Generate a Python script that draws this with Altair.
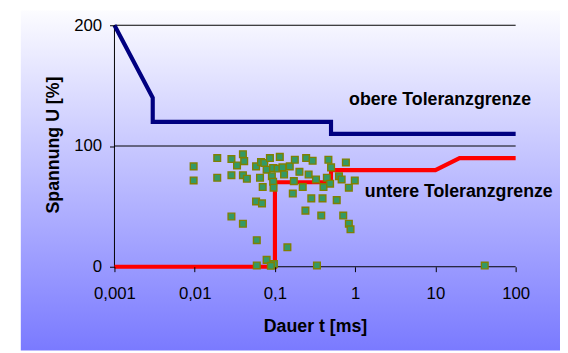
import altair as alt
import pandas as pd

# ---- data ----
x_ticks = [0.001, 0.01, 0.1, 1, 10, 100]
x_tick_labels = ["0,001", "0,01", "0,1", "1", "10", "100"]
y_ticks = [0, 100, 200]

upper_t = [0.001, 0.003, 0.003, 0.5, 0.5, 100]
upper_u = [200, 140, 120, 120, 110, 110]

lower_t = [0.001, 0.1, 0.1, 0.5, 0.5, 10, 20, 100]
lower_u = [0, 0, 70, 70, 80, 80, 90, 90]

events_t = [0.0097, 0.0097, 0.0191, 0.0191, 0.0287, 0.0337, 0.0399, 0.0414, 0.0287, 0.0399,
            0.0447, 0.0287, 0.0399, 0.0594, 0.0594, 0.0788, 0.097, 0.089, 0.143, 0.334,
            0.0582, 0.0671, 0.0737, 0.0866, 0.115, 0.0788, 0.095, 0.108, 0.124, 0.153,
            0.177, 0.245, 0.295, 0.464, 0.501, 0.0652, 0.0916, 0.130, 0.202, 0.263,
            0.095, 0.0961, 0.0704, 0.172, 0.222, 0.325, 0.403, 0.444, 0.487, 0.167,
            0.0582, 0.069, 0.284, 0.392, 0.240, 0.378, 0.766, 0.989, 0.834, 0.710,
            0.834, 0.875, 0.589, 0.628, 0.678, 41.2]
events_u = [83.1, 71.5, 90.0, 73.7, 89.2, 83.9, 93.2, 87.5, 75.8, 75.8,
            72.9, 41.6, 35.6, 22.0, 1.1, 5.7, 2.2, 0.8, 16.1, 1.1,
            83.1, 86.7, 85.9, 90.0, 91.0, 80.4, 81.8, 81.3, 82.3, 83.1,
            88.6, 90.0, 87.8, 88.6, 82.3, 73.7, 75.0, 76.4, 78.6, 76.4,
            70.4, 65.5, 66.0, 70.9, 66.0, 72.3, 66.0, 73.7, 68.8, 60.6,
            54.1, 52.5, 56.6, 56.6, 46.5, 42.4, 86.4, 71.5, 65.5, 42.4,
            35.6, 31.0, 55.2, 75.0, 72.3, 1.0]

annotations = ["obere Toleranzgrenze", "untere Toleranzgrenze"]

# ---- tables ----
upper_df = pd.DataFrame({"t": upper_t, "u": upper_u, "i": range(len(upper_t))})
lower_df = pd.DataFrame({"t": lower_t, "u": lower_u, "i": range(len(lower_t))})
events_df = pd.DataFrame({"t": events_t, "u": events_u})
grid_df = pd.DataFrame({"u": y_ticks})

W, H = 407, 245
FONT = "Liberation Sans"

label_expr = ""
for v, lab in zip(x_ticks[:-1], x_tick_labels[:-1]):
    label_expr += f"datum.value < {v * 2} ? '{lab}' : "
label_expr += f"'{x_tick_labels[-1]}'"

xscale = alt.Scale(type="log", domain=[x_ticks[0], x_ticks[-1]], nice=False)
yscale = alt.Scale(domain=[y_ticks[0], y_ticks[-1]], nice=False)

xaxis = alt.Axis(values=x_ticks, labelExpr=label_expr, grid=False, domain=False,
                 ticks=True, tickSize=5, tickColor="black", tickWidth=1,
                 labelFont=FONT, labelFontSize=17, labelColor="black", labelPadding=14,
                 labelFlush=False, labelOverlap=False,
                 title="Dauer t [ms]", titleFont=FONT, titleFontSize=18,
                 titleFontWeight="bold", titleColor="black",
                 titleY=61, titleBaseline="middle", zindex=1)
yaxis = alt.Axis(values=y_ticks, grid=False, domain=False, ticks=True, tickSize=5,
                 tickColor="black", tickWidth=1, labelFont=FONT, labelFontSize=17,
                 labelColor="black", labelPadding=8,
                 title="Spannung U [%]", titleFont=FONT, titleFontSize=18,
                 titleFontWeight="bold", titleColor="black",
                 titleX=-62, titleY=121, titleAngle=270, titleBaseline="middle",
                 titleAlign="center", zindex=1)

gradient = alt.LinearGradient(
    gradient="linear", x1=0, y1=0, x2=0, y2=1,
    stops=[alt.GradientStop(offset=0, color="#fcfcff"),
           alt.GradientStop(offset=1, color="#7a7aff")])

bg = alt.Chart(alt.Data(values=[{}])).mark_rect(fill=gradient, strokeWidth=0).encode(
    x=alt.value(-95), x2=alt.value(452), y=alt.value(-15), y2=alt.value(330))

grid = alt.Chart(grid_df).mark_rule(color="black", strokeWidth=1).encode(
    y=alt.Y("u:Q", scale=yscale, axis=yaxis), x=alt.value(0), x2=alt.value(W))

yline = alt.Chart(alt.Data(values=[{}])).mark_rule(color="black", strokeWidth=1).encode(
    x=alt.value(0), y=alt.value(0), y2=alt.value(H))

lower = alt.Chart(lower_df).mark_line(color="#ff0000", strokeWidth=4.2).encode(
    x=alt.X("t:Q", scale=xscale, axis=xaxis),
    y=alt.Y("u:Q", scale=yscale, axis=yaxis),
    order="i:Q")

upper = alt.Chart(upper_df).mark_line(color="#000080", strokeWidth=4.2).encode(
    x=alt.X("t:Q", scale=xscale, axis=xaxis),
    y=alt.Y("u:Q", scale=yscale, axis=yaxis),
    order="i:Q")

points = alt.Chart(events_df).mark_point(
    shape="square", filled=True, fill="#339966", stroke="#808000",
    strokeWidth=1.4, size=46, opacity=1).encode(
    x=alt.X("t:Q", scale=xscale, axis=xaxis),
    y=alt.Y("u:Q", scale=yscale, axis=yaxis))

txt_upper = alt.Chart(alt.Data(values=[{"label": annotations[0]}])).mark_text(
    font=FONT, fontSize=18, fontWeight="bold", color="black",
    align="left", baseline="middle").encode(
    x=alt.value(238), y=alt.value(76), text="label:N")

txt_lower = alt.Chart(alt.Data(values=[{"label": annotations[1]}])).mark_text(
    font=FONT, fontSize=18, fontWeight="bold", color="black",
    align="left", baseline="middle").encode(
    x=alt.value(254), y=alt.value(169), text="label:N")

chart = alt.layer(bg, grid, yline, lower, upper, points, txt_upper, txt_lower).properties(
    width=W, height=H,
    padding={"left": 108, "top": 15, "right": 45, "bottom": 85},
    autosize=alt.AutoSizeParams(type="none"),
    background="white",
).configure_view(stroke=None)

chart.save("out.html", embed_options={"renderer": "svg", "actions": False})
